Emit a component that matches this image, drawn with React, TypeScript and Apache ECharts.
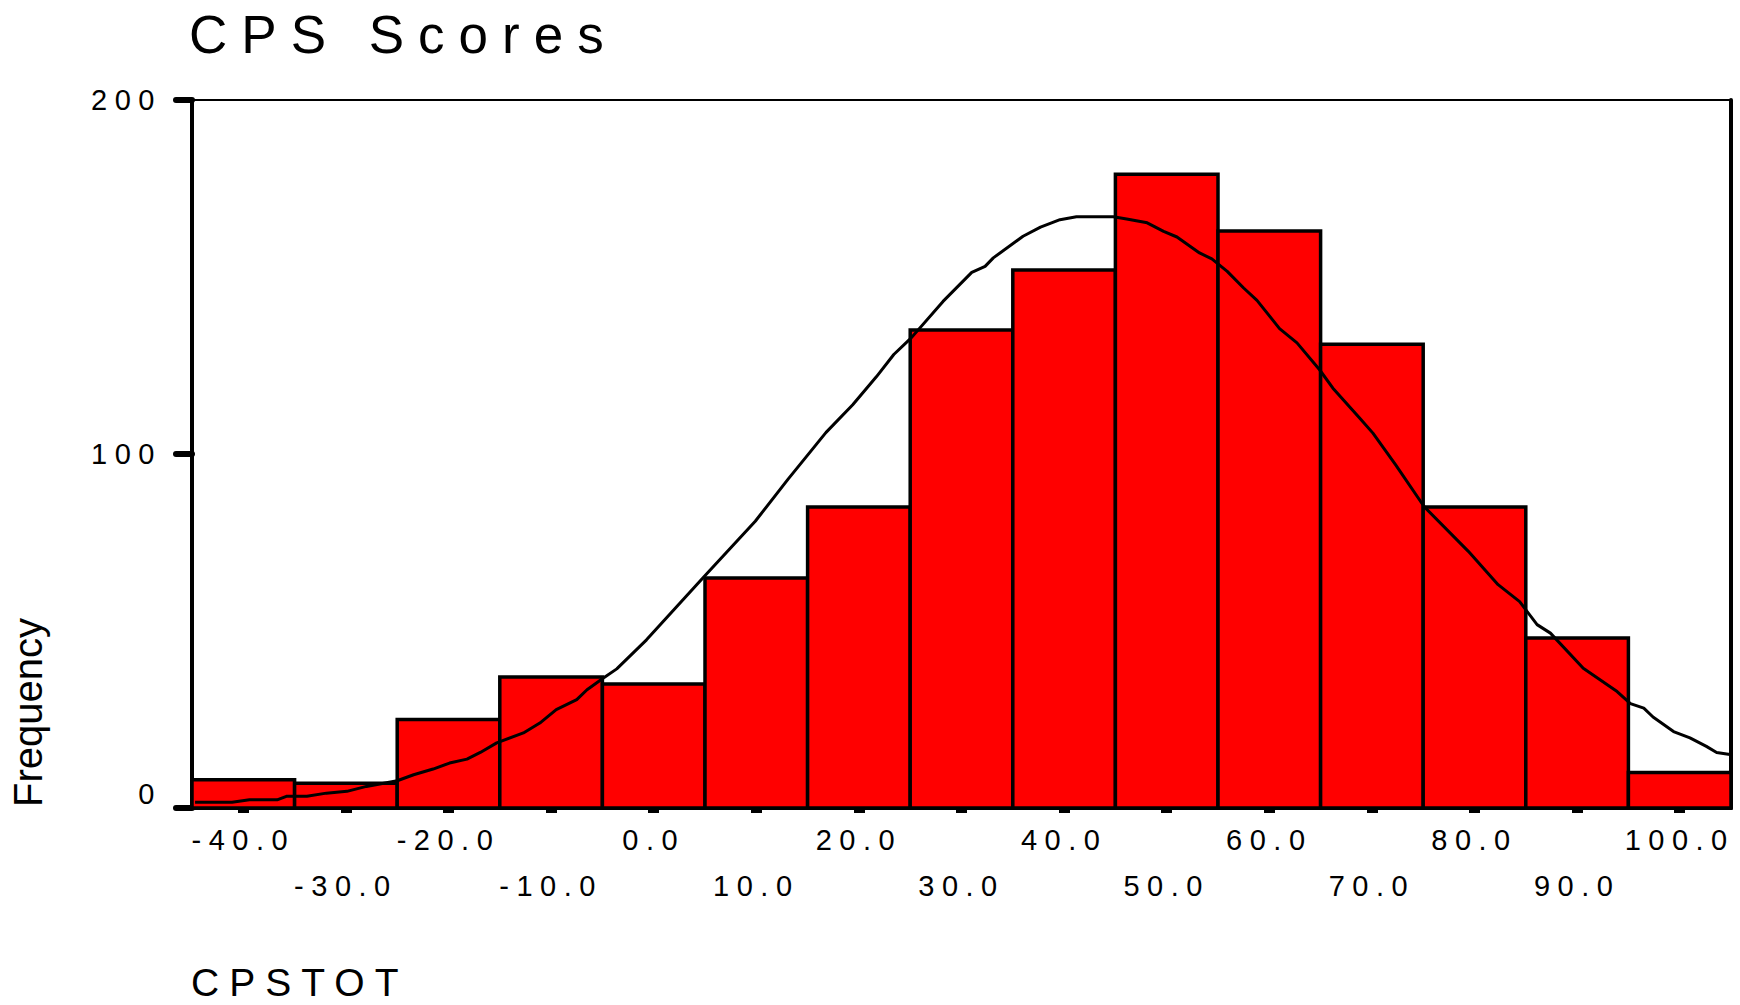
import React, { useEffect, useRef } from 'react';
import * as echarts from 'echarts';

// ---- data ----
const binCenters = [-40, -30, -20, -10, 0, 10, 20, 30, 40, 50, 60, 70, 80, 90, 100];
const frequencies = [8, 7, 25, 37, 35, 65, 85, 135, 152, 179, 163, 131, 85, 48, 10];
const binWidth = 10;

const curveX = [
  -44.7, -41.1, -39.4, -36.7, -35.8, -33.8, -31.9, -29.9, -28.0, -25.0, -23.4, -21.5, -19.9, -18.2,
  -16.9, -15.3, -12.7, -11.1, -9.5, -7.5, -6.5, -4.9, -3.6, -0.7, 4.9, 9.9, 13.1, 16.8, 19.4, 21.7,
  23.4, 25.1, 28.2, 31.0, 32.3, 33.1, 36.0, 37.7, 39.6, 41.2, 44.8, 46.1, 48.1, 49.7, 51.0, 53.2,
  54.4, 55.9, 57.5, 58.8, 61.0, 62.7, 64.9, 66.2, 68.8, 70.1, 72.3, 75.1, 79.4, 82.3, 84.4, 86.1,
  87.4, 90.6, 93.9, 95.2, 96.5, 97.4, 99.4, 101.0, 102.6, 103.6, 104.9,
];
const curveY = [
  1.6, 1.6, 2.3, 2.3, 3.3, 3.3, 4.2, 4.7, 6.1, 7.7, 9.4, 11.0, 12.7, 13.8,
  15.7, 18.4, 21.2, 24.0, 27.8, 30.6, 33.4, 36.7, 39.3, 47.5, 65.3, 81.0, 92.9, 106.1, 113.9, 121.8,
  128.1, 132.8, 143.1, 151.3, 153.0, 155.4, 161.5, 164.1, 166.2, 167.0, 167.0, 166.4, 165.3, 162.9, 161.3, 156.8,
  155.1, 151.6, 146.9, 143.4, 135.4, 131.4, 123.8, 118.6, 110.2, 105.9, 97.0, 85.1, 72.5, 63.1, 58.3, 51.8,
  49.4, 39.5, 32.9, 29.5, 28.2, 25.7, 21.6, 19.8, 17.4, 15.7, 15.1,
];

const xMin = -45;
const xMax = 105;
const evenTickLabels = [-40, -20, 0, 20, 40, 60, 80, 100];
const oddTickLabels = [-30, -10, 10, 30, 50, 70, 90];
const allTicks = [-40, -30, -20, -10, 0, 10, 20, 30, 40, 50, 60, 70, 80, 90, 100];
const yMin = 0;
const yMax = 200;
const yInterval = 100;

const titleText = 'CPS Scores';
const xName = 'CPSTOT';
const yName = 'Frequency';

const FONT = '"Liberation Sans", Arial, Helvetica, sans-serif';

function applySpacing(root: HTMLElement | null) {
  if (!root) return;
  root.querySelectorAll('text').forEach((t) => {
    const s = (t.textContent || '').trim();
    let ls = '7.5px';
    if (s === titleText) ls = '14px';
    else if (s === xName) ls = '10px';
    else if (s === yName) ls = '0px';
    (t as SVGTextElement).style.letterSpacing = ls;
  });
}

export default function App() {
  const ref = useRef<HTMLDivElement>(null);

  useEffect(() => {
    if (!ref.current) return;
    const chart = echarts.init(ref.current, undefined, { renderer: 'svg' });
    const fmt = (v: number) => v.toFixed(1);
    const hiddenAxisBase = {
      type: 'value' as const,
      min: xMin,
      max: xMax,
      splitLine: { show: false },
    };
    const option: any = {
      animation: false,
      backgroundColor: '#ffffff',
      textStyle: { fontFamily: FONT, color: '#000' },
      title: {
        text: titleText,
        left: 189,
        top: 8,
        padding: 0,
        textStyle: { fontFamily: FONT, fontSize: 53, fontWeight: 'normal', color: '#000' },
      },
      grid: { left: 192, right: 9, top: 100, bottom: 197, containLabel: false },
      xAxis: [
        {
          ...hiddenAxisBase,
          position: 'bottom',
          axisLine: { show: true, onZero: false, lineStyle: { color: '#000', width: 3 } },
          axisTick: { show: false },
          axisLabel: {
            show: true,
            customValues: evenTickLabels,
            formatter: fmt,
            margin: 17,
            fontSize: 29,
            fontFamily: FONT,
            color: '#000',
          },
        },
        {
          ...hiddenAxisBase,
          position: 'bottom',
          axisLine: { show: false },
          axisTick: { show: false },
          axisLabel: {
            show: true,
            customValues: oddTickLabels,
            formatter: fmt,
            margin: 63,
            fontSize: 29,
            fontFamily: FONT,
            color: '#000',
          },
        },
        {
          ...hiddenAxisBase,
          position: 'bottom',
          offset: 4,
          axisLine: { show: false },
          axisTick: {
            show: true,
            customValues: allTicks,
            length: 5,
            lineStyle: { color: '#000', width: 11 },
          },
          axisLabel: { show: false },
        },
        {
          ...hiddenAxisBase,
          position: 'top',
          axisLine: { show: true, onZero: false, lineStyle: { color: '#000', width: 2 } },
          axisTick: { show: false },
          axisLabel: { show: false },
        },
      ],
      yAxis: [
        {
          type: 'value',
          min: yMin,
          max: yMax,
          interval: yInterval,
          position: 'left',
          splitLine: { show: false },
          axisLine: { show: true, onZero: false, lineStyle: { color: '#000', width: 4 } },
          axisTick: { show: true, length: 16, lineStyle: { color: '#000', width: 6, cap: 'round' } },
          axisLabel: {
            margin: 30,
            fontSize: 29,
            fontFamily: FONT,
            color: '#000',
            formatter: (v: number) => (v === 0 ? '{z|0}' : String(v)),
            rich: {
              z: { fontSize: 29, fontFamily: FONT, color: '#000', padding: [0, 0, 29, 0] },
            },
          },
        },
        {
          type: 'value',
          min: yMin,
          max: yMax,
          interval: yInterval,
          position: 'right',
          splitLine: { show: false },
          axisLine: { show: true, onZero: false, lineStyle: { color: '#000', width: 4 } },
          axisTick: { show: false },
          axisLabel: { show: false },
        },
      ],
      graphic: [
        {
          type: 'text',
          x: 191,
          y: 982,
          style: {
            text: xName,
            font: `39px ${FONT}`,
            fill: '#000',
            textAlign: 'left',
            textVerticalAlign: 'middle',
          },
        },
        {
          type: 'text',
          x: 28,
          y: 807,
          rotation: Math.PI / 2,
          style: {
            text: yName,
            font: `40px ${FONT}`,
            fill: '#000',
            textAlign: 'left',
            textVerticalAlign: 'middle',
          },
        },
      ],
      series: [
        {
          type: 'custom',
          xAxisIndex: 0,
          yAxisIndex: 0,
          data: binCenters.map((c, i) => [c, frequencies[i]]),
          encode: { x: 0, y: 1 },
          renderItem: (_params: any, api: any) => {
            const c = api.value(0);
            const f = api.value(1);
            const p1 = api.coord([c - binWidth / 2, f]);
            const p2 = api.coord([c + binWidth / 2, 0]);
            return {
              type: 'rect',
              shape: { x: p1[0], y: p1[1], width: p2[0] - p1[0], height: p2[1] - p1[1] },
              style: { fill: '#ff0000', stroke: '#000000', lineWidth: 3.5 },
            };
          },
          z: 2,
        },
        {
          type: 'line',
          xAxisIndex: 0,
          yAxisIndex: 0,
          data: curveX.map((x, i) => [x, curveY[i]]),
          showSymbol: false,
          symbol: 'none',
          smooth: false,
          lineStyle: { color: '#000000', width: 3 },
          z: 3,
        },
      ],
    };
    chart.setOption(option);
    const root = ref.current;
    applySpacing(root);
    chart.on('finished', () => applySpacing(root));
    const t1 = window.setTimeout(() => applySpacing(root), 50);
    const t2 = window.setTimeout(() => applySpacing(root), 300);
    return () => {
      window.clearTimeout(t1);
      window.clearTimeout(t2);
      chart.dispose();
    };
  }, []);

  return (
    <div
      ref={ref}
      style={{ position: 'absolute', left: 0, top: 0, width: 1740, height: 1005, background: '#fff' }}
    />
  );
}
